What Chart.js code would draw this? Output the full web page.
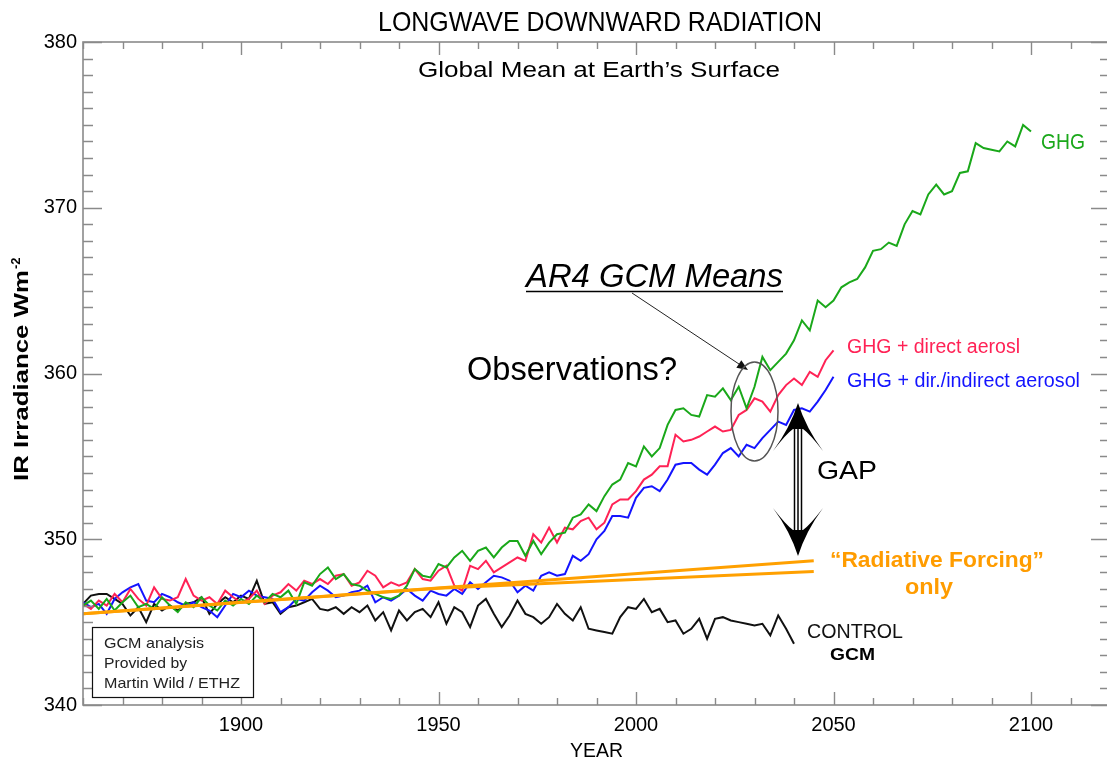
<!DOCTYPE html>
<html>
<head>
<meta charset="utf-8">
<script src="https://cdn.jsdelivr.net/npm/chart.js@4.4.0/dist/chart.umd.min.js"></script>
<style>
  html, body { margin: 0; padding: 0; background: #fff; overflow: hidden; }
  #wrap { width: 1112px; height: 760px; }
</style>
</head>
<body>
<div id="wrap"><canvas id="c" width="1112" height="760"></canvas></div>
<script>
// ---------------- DATA ----------------
const startYear = 1860;
const yearStep = 2;

const ghgValues = [
  346.0, 346.3, 345.8, 346.4, 345.7, 346.2, 346.6, 345.9, 346.1, 345.8,
  346.5, 346.0, 345.6, 346.2, 345.9, 346.5, 346.0, 345.7, 346.3, 346.0,
  346.4, 346.1, 346.6, 346.2, 346.7, 346.5, 346.9, 346.1, 347.4, 347.2,
  347.9, 348.3, 347.6, 347.9, 347.3, 347.2, 346.9, 346.7, 346.5, 346.4,
  346.6, 347.2, 348.2, 347.8, 347.7, 348.5, 348.3, 348.9, 349.3, 348.7,
  349.3, 349.5, 348.9, 349.5, 349.9, 349.9, 349.0, 349.9, 349.1, 349.8,
  350.3, 350.4, 351.3, 351.5, 352.1, 351.7, 352.6, 353.3, 353.6, 354.6,
  354.4, 355.6, 355.0, 355.5, 356.9, 357.8, 357.9, 357.5, 357.4, 358.7,
  358.6, 359.1, 358.4, 359.2, 357.9, 359.2, 361.0, 360.2, 360.7, 361.2,
  362.0, 363.2, 362.6, 364.4, 364.0, 364.4, 365.2, 365.5, 365.7, 366.4,
  367.4, 367.5, 367.9, 367.7, 369.0, 369.8, 369.6, 370.8, 371.4, 370.8,
  371.0, 372.1, 372.2, 373.9, 373.6, 373.5, 373.4, 374.0, 373.7, 375.0,
  374.6
];

const directAerosolValues = [
  346.1, 345.8, 346.3, 346.0, 346.7, 346.2, 347.0, 346.4, 346.0, 347.1,
  346.4, 346.3, 346.5, 347.6, 346.6, 346.3, 346.5, 346.1, 346.9, 346.5,
  346.2, 346.4, 346.9, 346.1, 346.6, 346.8, 347.3, 346.9, 347.5, 347.3,
  347.6, 347.3, 347.8, 347.9, 347.2, 347.4, 348.1, 347.8, 347.1, 347.4,
  347.2, 347.4, 348.2, 347.6, 347.5, 348.1, 348.4, 347.2, 346.9, 348.4,
  348.2, 348.7, 348.0, 348.3, 348.6, 348.9, 348.7, 350.3, 349.8, 350.7,
  349.8, 350.7, 350.6, 351.1, 351.3, 350.6, 351.0, 352.1, 352.4, 352.4,
  352.9, 353.6, 353.9, 354.4, 354.4, 356.3, 355.9, 356.0, 356.2, 356.5,
  356.8, 356.5, 356.6, 357.5, 357.8, 358.5, 358.3, 357.7, 358.7, 359.3,
  359.7, 359.3, 360.1, 359.8, 360.8, 361.4
];

const indirectAerosolValues = [
  346.2, 345.9, 346.1, 345.5, 346.4, 346.8, 347.1, 347.3, 346.3, 346.2,
  346.7, 346.5, 346.2, 346.0, 346.2, 345.9, 345.7, 345.3, 346.0, 346.7,
  346.5, 346.9, 346.6, 346.5, 346.4, 345.6, 345.9, 346.4, 346.3, 346.8,
  347.2, 346.9, 346.5, 346.6, 346.8, 346.9, 347.2, 346.2, 346.5, 346.3,
  346.6, 347.0, 346.6, 346.3, 346.9, 346.7, 346.6, 347.0, 346.7, 347.4,
  347.0, 347.4, 347.8, 347.7, 347.5, 346.8, 347.2, 346.9, 347.8, 348.0,
  347.8, 347.9, 349.0, 348.7, 349.1, 350.0, 350.5, 351.4, 351.4, 351.3,
  352.5, 353.1, 353.2, 352.9, 353.6, 354.5, 354.6, 354.6, 354.2, 353.9,
  354.5, 355.2, 355.5, 355.0, 355.7, 355.5, 356.1, 356.6, 357.1, 356.9,
  357.8, 357.9, 357.7, 358.3, 359.0, 359.8
];

const controlValues = [
  346.1, 346.6, 346.7, 346.7, 346.4, 346.1, 345.4, 345.9, 345.0, 346.1,
  345.7, 346.0, 345.7, 346.1, 346.2, 346.5, 345.5, 346.1, 346.5, 346.2,
  346.6, 346.4, 347.5, 346.1, 346.2, 345.5, 345.9, 346.0, 346.2, 346.4,
  345.8, 345.7, 345.9, 345.5, 345.9, 345.6, 346.0, 345.1, 345.6, 344.5,
  345.7, 345.1, 345.6, 345.8, 345.3, 346.2, 344.9, 345.9, 345.6, 344.7,
  346.0, 346.4, 345.5, 344.7, 345.4, 346.3, 345.5, 345.3, 344.9, 345.3,
  346.1, 345.5, 345.1, 345.9, 344.6, 344.5, 344.4, 344.3, 345.3, 345.9,
  345.8, 346.4, 345.6, 345.8, 345.0, 345.1, 344.3, 344.6, 345.2, 344.0,
  345.2, 345.3, 345.1, 345.0, 344.9, 344.8, 344.9, 344.2, 345.4, 344.6,
  343.7
];

// "Radiative Forcing" only lines
const forcingUpperYears = [1860, 2045];
const forcingUpperValues = [345.5, 348.7];
const forcingLowerYears = [1860, 1950, 2045];
const forcingLowerValues = [345.5, 347.05, 348.05];

// axis ranges and tick labels
const xMin = 1860, xMax = 2120, xMinorStep = 10, xMajorStep = 50;
const yMin = 340, yMax = 380, yMinorStep = 1, yMajorStep = 10;

// ---------------- BUILD ----------------
function toPoints(values) {
  return values.map((v, i) => ({ x: startYear + i * yearStep, y: v }));
}
function pairPoints(xs, ys) {
  return xs.map((x, i) => ({ x: x, y: ys[i] }));
}

const FONT = '"Liberation Sans", Arial, Helvetica, sans-serif';
const GREEN = '#1aa81a', RED = '#ff2255', BLUE = '#1414ff', BLACK = '#111111', ORANGE = '#ffa000', ORANGE_TXT = '#ff9c00';
const AXIS = '#8a8a8a';

function fitText(ctx, text, left, baseline, width, size, opts) {
  opts = opts || {};
  ctx.save();
  ctx.font = (opts.style || '') + ' ' + (opts.weight || '') + ' ' + size + 'px ' + FONT;
  const w = ctx.measureText(text).width;
  ctx.translate(left, baseline);
  ctx.scale(width / w, 1);
  ctx.fillStyle = opts.color || '#000';
  ctx.textAlign = 'left';
  ctx.textBaseline = 'alphabetic';
  ctx.fillText(text, 0, 0);
  ctx.restore();
}

const framePlugin = {
  id: 'frame',
  afterDraw(chart) {
    const ctx = chart.ctx;
    const a = chart.chartArea;
    const xs = chart.scales.x, ys = chart.scales.y;
    ctx.save();
    ctx.strokeStyle = AXIS;
    ctx.lineWidth = 1.6;
    ctx.strokeRect(a.left, a.top, a.right - a.left, a.bottom - a.top);
    ctx.lineWidth = 1.4;
    ctx.beginPath();
    xs.ticks.forEach(t => {
      const px = Math.round(xs.getPixelForValue(t.value)) + 0.5;
      const len = (t.value % xMajorStep === 0) ? 13 : 7;
      ctx.moveTo(px, a.bottom); ctx.lineTo(px, a.bottom - len);
      ctx.moveTo(px, a.top); ctx.lineTo(px, a.top + len);
    });
    ys.ticks.forEach(t => {
      const py = Math.round(ys.getPixelForValue(t.value)) + 0.5;
      const len = (t.value % yMajorStep === 0) ? 19 : 10;
      ctx.moveTo(a.left, py); ctx.lineTo(a.left + len, py);
      ctx.moveTo(a.right, py); ctx.lineTo(a.right - len, py);
    });
    ctx.stroke();
    ctx.restore();

    // Titles
    fitText(ctx, 'LONGWAVE DOWNWARD RADIATION', 378, 31, 444, 28);
    fitText(ctx, 'Global Mean at Earth\u2019s Surface', 418, 77, 362, 22);
    fitText(ctx, 'YEAR', 570, 757, 53, 21);

    // Y axis title (rotated)
    ctx.save();
    ctx.translate(28, 481);
    ctx.rotate(-Math.PI / 2);
    fitText(ctx, 'IR Irradiance Wm', 0, 0, 211, 20, { weight: 'bold' });
    ctx.font = 'bold 13px ' + FONT;
    ctx.fillStyle = '#000';
    ctx.fillText('-2', 212, -8);
    ctx.restore();

    // Series labels
    fitText(ctx, 'GHG', 1041, 149, 44, 22, { color: GREEN });
    fitText(ctx, 'GHG + direct aerosl', 847, 353, 173, 20, { color: RED });
    fitText(ctx, 'GHG + dir./indirect aerosol', 847, 387, 233, 20, { color: BLUE });
    fitText(ctx, 'CONTROL', 807, 638, 96, 20, { color: '#111' });
    fitText(ctx, 'GCM', 830, 660, 45, 17, { weight: 'bold', color: '#000' });

    // Annotations
    fitText(ctx, 'Observations?', 467, 380, 210, 34);
    fitText(ctx, 'AR4 GCM Means', 526, 287, 257, 34, { style: 'italic' });
    ctx.save();
    ctx.strokeStyle = '#000'; ctx.lineWidth = 1.5;
    ctx.beginPath(); ctx.moveTo(526, 291.5); ctx.lineTo(783, 291.5); ctx.stroke();
    // pointer arrow
    ctx.lineWidth = 1;
    ctx.strokeStyle = '#222';
    const ax0 = 632, ay0 = 293, ax1 = 748, ay1 = 370;
    const ang = Math.atan2(ay1 - ay0, ax1 - ax0);
    ctx.beginPath(); ctx.moveTo(ax0, ay0); ctx.lineTo(ax1 - 8 * Math.cos(ang), ay1 - 8 * Math.sin(ang)); ctx.stroke();
    ctx.fillStyle = '#111';
    ctx.beginPath();
    ctx.moveTo(ax1, ay1);
    ctx.lineTo(ax1 - 11 * Math.cos(ang) + 4.5 * Math.sin(ang), ay1 - 11 * Math.sin(ang) - 4.5 * Math.cos(ang));
    ctx.lineTo(ax1 - 11 * Math.cos(ang) - 4.5 * Math.sin(ang), ay1 - 11 * Math.sin(ang) + 4.5 * Math.cos(ang));
    ctx.closePath(); ctx.fill();
    // ellipse
    ctx.strokeStyle = '#555'; ctx.lineWidth = 1.5;
    ctx.beginPath(); ctx.ellipse(754.5, 411.5, 23.5, 49.5, 0, 0, Math.PI * 2); ctx.stroke();

    // GAP double arrow
    const gx = 798;
    ctx.fillStyle = '#000';
    ctx.beginPath();
    ctx.moveTo(gx, 403);
    ctx.quadraticCurveTo(gx + 8, 428, gx + 25, 451);
    ctx.quadraticCurveTo(gx + 12, 434, gx + 5, 429);
    ctx.lineTo(gx - 5, 429);
    ctx.quadraticCurveTo(gx - 12, 434, gx - 25, 451);
    ctx.quadraticCurveTo(gx - 8, 428, gx, 403);
    ctx.fill();
    ctx.beginPath();
    ctx.moveTo(gx, 556);
    ctx.quadraticCurveTo(gx + 8, 531, gx + 25, 508);
    ctx.quadraticCurveTo(gx + 12, 525, gx + 5, 530);
    ctx.lineTo(gx - 5, 530);
    ctx.quadraticCurveTo(gx - 12, 525, gx - 25, 508);
    ctx.quadraticCurveTo(gx - 8, 531, gx, 556);
    ctx.fill();
    ctx.strokeStyle = '#000'; ctx.lineWidth = 1.5;
    ctx.beginPath();
    [gx - 3.5, gx, gx + 3.5].forEach(x => { ctx.moveTo(x, 428); ctx.lineTo(x, 531); });
    ctx.stroke();
    ctx.restore();

    fitText(ctx, 'GAP', 817, 479, 60, 26);
    fitText(ctx, '\u201cRadiative Forcing\u201d', 830, 567, 214, 22, { weight: 'bold', color: ORANGE_TXT });
    fitText(ctx, 'only', 905, 594, 48, 22, { weight: 'bold', color: ORANGE_TXT });

    // credit box
    ctx.save();
    ctx.fillStyle = '#fff';
    ctx.fillRect(92, 627, 162, 71);
    ctx.strokeStyle = '#111'; ctx.lineWidth = 1.2;
    ctx.strokeRect(92.5, 627.5, 161, 70);
    ctx.restore();
    fitText(ctx, 'GCM analysis', 104, 648, 100, 15, { color: '#222' });
    fitText(ctx, 'Provided by', 104, 668, 83, 15, { color: '#222' });
    fitText(ctx, 'Martin Wild / ETHZ', 104, 688, 136, 15, { color: '#222' });
  }
};

const lineDs = (label, data, color, width) => ({
  label, data, borderColor: color, borderWidth: width, pointRadius: 0,
  tension: 0, fill: false
});

new Chart(document.getElementById('c'), {
  type: 'line',
  data: {
    datasets: [
      lineDs('Radiative Forcing (upper)', pairPoints(forcingUpperYears, forcingUpperValues), ORANGE, 3),
      lineDs('Radiative Forcing (lower)', pairPoints(forcingLowerYears, forcingLowerValues), ORANGE, 3),
      lineDs('GHG', toPoints(ghgValues), GREEN, 2),
      lineDs('GHG + direct aerosol', toPoints(directAerosolValues), RED, 2),
      lineDs('GHG + dir./indirect aerosol', toPoints(indirectAerosolValues), BLUE, 2),
      lineDs('CONTROL', toPoints(controlValues), BLACK, 2)
    ]
  },
  options: {
    responsive: false,
    devicePixelRatio: 1,
    animation: false,
    layout: { padding: { top: 42, right: 2, left: 0, bottom: 0 } },
    plugins: { legend: { display: false }, tooltip: { enabled: false } },
    scales: {
      x: {
        type: 'linear', min: xMin, max: xMax,
        grid: { display: false, drawTicks: false },
        border: { display: false },
        ticks: {
          stepSize: xMinorStep, autoSkip: false, maxRotation: 0, minRotation: 0,
          padding: 8, color: '#000', font: { family: FONT, size: 20 },
          callback: v => (v % xMajorStep === 0 ? String(v) : '')
        },
        afterFit: s => { s.height = 55; s.paddingLeft = 0; s.paddingRight = 0; }
      },
      y: {
        type: 'linear', min: yMin, max: yMax,
        grid: { display: false, drawTicks: false },
        border: { display: false },
        ticks: {
          stepSize: yMinorStep, autoSkip: false,
          padding: 6, color: '#000', font: { family: FONT, size: 20 },
          callback: v => (v % yMajorStep === 0 ? String(v) : '')
        },
        afterFit: s => { s.width = 83; s.paddingTop = 0; s.paddingBottom = 0; }
      }
    }
  },
  plugins: [framePlugin]
});
</script>
</body>
</html>
